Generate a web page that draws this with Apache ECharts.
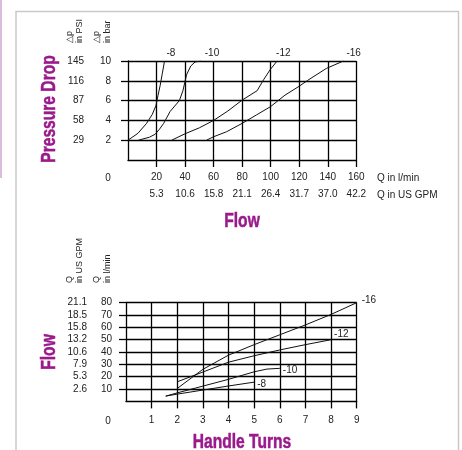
<!DOCTYPE html>
<html><head><meta charset="utf-8">
<script src="https://cdn.jsdelivr.net/npm/echarts@6/dist/echarts.min.js"></script>
<style>html,body{margin:0;padding:0;background:#fff}#c{width:462px;height:450px}</style>
</head><body><div id="c"></div>
<script>
// ---- data ----
const flowTicks = [20, 40, 60, 80, 100, 120, 140, 160];
const flowGpmLabels = ['5.3', '10.6', '15.8', '21.1', '26.4', '31.7', '37.0', '42.2'];
const barTicks = [2, 4, 6, 8, 10];
const psiLabels = ['29', '58', '87', '116', '145'];
const turnTicks = [1, 2, 3, 4, 5, 6, 7, 8, 9];
const lpmTicks = [10, 20, 30, 40, 50, 60, 70, 80];
const gpmLabels = ['2.6', '5.3', '7.9', '10.6', '13.2', '15.8', '18.5', '21.1'];
const sizeNames = ['-8', '-10', '-12', '-16'];

// pressure drop (bar) vs flow (l/min)
const pd8 = [[0, 2], [7, 2.7], [13, 3.7], [17, 4.6], [19.6, 5.5], [21, 6.5], [22.5, 7.5], [24, 8.7], [25.6, 10]];
const pd10 = [[7.3, 2], [15, 2.3], [19, 2.6], [22, 3.1], [25, 3.7], [29.5, 4.9], [36, 6], [38.5, 7], [41, 8.6], [44, 9.5], [47, 9.9], [51, 10]];
const pd12 = [[30.6, 2], [40, 2.65], [50, 3.25], [60, 4], [70, 4.95], [80, 6.05], [90.5, 7], [95, 8.1], [99.5, 9.1], [104.5, 10]];
const pd16 = [[55, 2], [60, 2.35], [69, 2.85], [80, 3.7], [90, 4.55], [100, 5.4], [110, 6.55], [120, 7.45], [126, 8.05], [139, 9.25], [151, 10]];

// flow (l/min) vs handle turns
const ft8 = [[1.55, 4.3], [2, 5.9], [3, 9.2], [4, 12.5], [5, 15.6]];
const ft10 = [[1.55, 4.3], [2, 6.9], [3, 12.4], [4, 17.9], [5, 24], [5.5, 26.2], [6, 26.8]];
const ft12 = [[2, 15.9], [3, 23.8], [4, 31.8], [5, 37], [6, 41.7], [7, 46], [8, 50]];
const ft16 = [[2, 10.5], [3, 26], [4, 37.5], [5, 46], [6, 54], [7, 62], [8, 70.5], [9, 80]];

// ---- styling ----
const PURPLE = '#9a1a8c';
const FONT = '"Liberation Sans", Arial, sans-serif';
const TXT = '#222';
const LW = 1.3;

function lineSeries(name, data, xi, dist, dy) {
  return {
    type: 'line', name: name, data: data, xAxisIndex: xi, yAxisIndex: xi === 0 ? 0 : 2,
    showSymbol: false, symbol: 'none', smooth: false,
    lineStyle: { color: '#111', width: 1 },
    endLabel: { show: true, formatter: name, distance: dist, offset: [0, dy], align: 'left', verticalAlign: 'middle',
      fontFamily: FONT, fontSize: 10, color: TXT },
    silent: true, z: 5
  };
}

const labelBase = { fontFamily: FONT, fontSize: 10, color: TXT };
const titleStyle = (t) => ({ text: t, fontFamily: FONT, fontWeight: 'bold', fontSize: 20, fill: PURPLE,
  stroke: PURPLE, lineWidth: 0.5, align: 'center', verticalAlign: 'middle' });
const small = (t) => ({ text: t, fontFamily: FONT, fontSize: 9, fill: TXT, align: 'left', verticalAlign: 'middle' });

const option = {
  animation: false,
  grid: [
    { left: 128, top: 61, width: 228.3, height: 99, outerBoundsMode: 'none', containLabel: false },
    { left: 126, top: 302.7, width: 230.7, height: 98.7, outerBoundsMode: 'none', containLabel: false }
  ],
  xAxis: [
    { type: 'value', gridIndex: 0, min: 0, max: 160, interval: 20, position: 'bottom',
      axisLine: { show: true, onZero: false, lineStyle: { color: '#000', width: LW } },
      axisTick: { show: true, length: 7, customValues: flowTicks, lineStyle: { color: '#000', width: LW } },
      axisLabel: Object.assign({ customValues: flowTicks, margin: 12 }, labelBase),
      splitLine: { show: true, lineStyle: { color: '#000', width: LW } } },
    { type: 'value', gridIndex: 0, min: 0, max: 160, interval: 20, position: 'bottom',
      axisLine: { show: false }, axisTick: { show: false }, splitLine: { show: false },
      axisLabel: Object.assign({ customValues: flowTicks, margin: 29,
        formatter: v => flowGpmLabels[flowTicks.indexOf(v)] }, labelBase) },
    { type: 'value', gridIndex: 1, min: 0, max: 9, interval: 1, position: 'bottom',
      axisLine: { show: true, onZero: false, lineStyle: { color: '#000', width: LW } },
      axisTick: { show: true, length: 7, customValues: turnTicks, lineStyle: { color: '#000', width: LW } },
      axisLabel: Object.assign({ customValues: turnTicks, margin: 13.5 }, labelBase),
      splitLine: { show: true, lineStyle: { color: '#000', width: LW } } }
  ],
  yAxis: [
    { type: 'value', gridIndex: 0, min: 0, max: 10, interval: 2,
      axisLine: { show: true, onZero: false, lineStyle: { color: '#000', width: LW } },
      axisTick: { show: true, length: 7, customValues: barTicks, lineStyle: { color: '#000', width: LW } },
      axisLabel: Object.assign({ customValues: barTicks, margin: 17 }, labelBase),
      splitLine: { show: true, lineStyle: { color: '#000', width: LW } } },
    { type: 'value', gridIndex: 0, min: 0, max: 10, interval: 2, position: 'left',
      axisLine: { show: false }, axisTick: { show: false }, splitLine: { show: false },
      axisLabel: Object.assign({ customValues: barTicks, margin: 44,
        formatter: v => psiLabels[barTicks.indexOf(v)] }, labelBase) },
    { type: 'value', gridIndex: 1, min: 0, max: 80, interval: 10,
      axisLine: { show: true, onZero: false, lineStyle: { color: '#000', width: LW } },
      axisTick: { show: true, length: 7, customValues: lpmTicks, lineStyle: { color: '#000', width: LW } },
      axisLabel: Object.assign({ customValues: lpmTicks, margin: 14 }, labelBase),
      splitLine: { show: true, lineStyle: { color: '#000', width: LW } } },
    { type: 'value', gridIndex: 1, min: 0, max: 80, interval: 10, position: 'left',
      axisLine: { show: false }, axisTick: { show: false }, splitLine: { show: false },
      axisLabel: Object.assign({ customValues: lpmTicks, margin: 39,
        formatter: v => gpmLabels[lpmTicks.indexOf(v)] }, labelBase) }
  ],
  series: [
    lineSeries(sizeNames[0], pd8, 0, 2, -8),
    lineSeries(sizeNames[1], pd10, 0, 4, -8),
    lineSeries(sizeNames[2], pd12, 0, -1, -8),
    lineSeries(sizeNames[3], pd16, 0, 3, -8),
    lineSeries(sizeNames[0], ft8, 2, 3, 2),
    lineSeries(sizeNames[1], ft10, 2, 3, 2),
    lineSeries(sizeNames[2], ft12, 2, 3, -5),
    lineSeries(sizeNames[3], ft16, 2, 5, -2)
  ],
  graphic: [
    // page frame
    { type: 'polyline', silent: true, shape: { points: [[16, 450], [16, 11.5], [458.5, 11.5], [458.5, 450]] },
      style: { stroke: '#c9c9c9', lineWidth: 1.5, fill: null } },
    { type: 'rect', silent: true, shape: { x: 0, y: 0, width: 2, height: 178 }, style: { fill: '#ddbadd' } },
    // titles (condensed bold)
    { type: 'text', silent: true, x: 49, y: 109, rotation: Math.PI / 2, scaleX: 0.78, style: titleStyle('Pressure Drop') },
    { type: 'text', silent: true, x: 242, y: 221, scaleX: 0.78, style: titleStyle('Flow') },
    { type: 'text', silent: true, x: 49, y: 352, rotation: Math.PI / 2, scaleX: 0.78, style: titleStyle('Flow') },
    { type: 'text', silent: true, x: 242, y: 442.5, scaleX: 0.78, style: titleStyle('Handle Turns') },
    // small axis titles (rotated)
    { type: 'text', silent: true, x: 70, y: 43, rotation: Math.PI / 2, style: small('\u25B3p') },
    { type: 'text', silent: true, x: 80, y: 43, rotation: Math.PI / 2, style: small('in PSI') },
    { type: 'text', silent: true, x: 97, y: 43, rotation: Math.PI / 2, style: small('\u25B3p') },
    { type: 'text', silent: true, x: 107.5, y: 43, rotation: Math.PI / 2, style: small('in bar') },
    { type: 'text', silent: true, x: 70, y: 283, rotation: Math.PI / 2, style: small('Q') },
    { type: 'text', silent: true, x: 80, y: 283, rotation: Math.PI / 2, style: small('in US GPM') },
    { type: 'text', silent: true, x: 97, y: 283, rotation: Math.PI / 2, style: small('Q') },
    { type: 'text', silent: true, x: 107.5, y: 283, rotation: Math.PI / 2, style: small('in l/min') },
    // zero labels and unit labels
    { type: 'text', silent: true, x: 108, y: 178, style: { text: '0', fontFamily: FONT, fontSize: 10, fill: TXT, align: 'center', verticalAlign: 'middle' } },
    { type: 'text', silent: true, x: 108, y: 421, style: { text: '0', fontFamily: FONT, fontSize: 10, fill: TXT, align: 'center', verticalAlign: 'middle' } },
    { type: 'text', silent: true, x: 377, y: 178, style: { text: 'Q in l/min', fontFamily: FONT, fontSize: 10, fill: TXT, align: 'left', verticalAlign: 'middle' } },
    { type: 'text', silent: true, x: 377, y: 195, style: { text: 'Q in US GPM', fontFamily: FONT, fontSize: 10, fill: TXT, align: 'left', verticalAlign: 'middle' } }
  ]
};
const chart = echarts.init(document.getElementById('c'));
chart.setOption(option);
</script>
</body></html>
